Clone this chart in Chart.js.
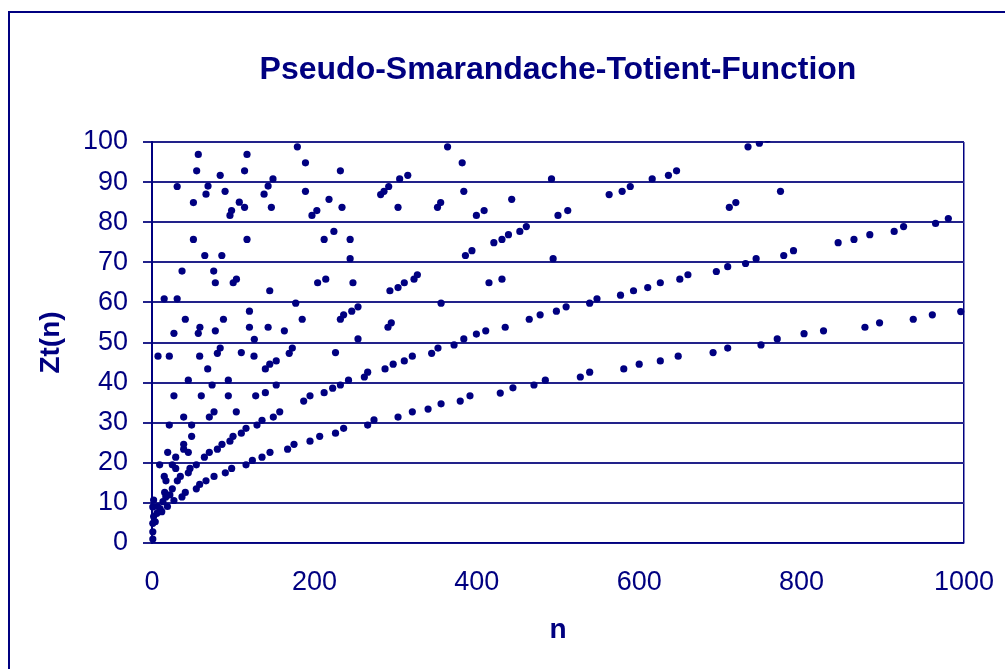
<!DOCTYPE html>
<html>
<head>
<meta charset="utf-8">
<script src="https://cdn.jsdelivr.net/npm/chart.js@4/dist/chart.umd.min.js"></script>
<style>
  html, body { margin: 0; padding: 0; background: #fff; overflow: hidden; }
  #frame { position: absolute; left: 8px; top: 11px; width: 1100px; height: 800px; border: 2px solid #000080; }
  #c { position: absolute; left: 0; top: 0; }
</style>
</head>
<body>
<div id="frame"></div>
<canvas id="c" width="1005" height="669"></canvas>
<script>
// Zt(n): n values and matching Zt(n)
const nVals = [
  1, 1, 1, 4, 2, 6, 12, 1, 2, 7, 10, 13.5, 19, 17, 15.6, 27, 25, 22,
  179, 57, 117, 189, 55, 114, 84, 149, 31, 69, 143, 90, 189, 66.5, 138, 51, 107.5, 114, 147, 218, 98, 96, 203, 197,
  51, 117, 212, 65, 86, 37, 76, 78, 100, 104, 204, 214, 145, 15, 31, 177, 41, 59, 88, 120, 120, 143, 185, 27, 57, 78, 163, 126,
  7.4, 21.3, 58.7, 80.5, 84, 110, 125.6, 169, 172.8, 68.6, 139.6, 145, 153, 44.7, 74, 94, 153, 27, 60.7, 94, 127.7, 139.6, 186.8, 194.6, 212,
  39, 70.6, 76.4, 103.8, 21.3, 48.8, 48.8, 39, 39, 44.7, 19.3, 29.2, 9.4, 25, 29.2, 44.7, 46.8, 54.6, 34.9,
  64.5, 70.6, 80.5, 86.2, 96, 99.8, 110, 115.8, 129.3, 135.5, 149.4, 157.3, 145.3, 167, 174.9, 194.6, 206.5,
  135.5, 123.6, 115.8, 98.1, 90.3, 76.4, 66.5, 58.7, 54.6, 36.9, 41, 31.2, 15.1, 17.2,
  364, 382, 232, 305, 315, 492, 291.5, 285.7, 281.6, 384, 234, 303, 355.5, 351.6, 443, 399.5, 409, 500,
  224, 244, 244, 386, 394, 421, 431, 439, 453, 461, 494, 247.5, 293, 303, 310.7, 322.7, 326.8, 415, 431, 356,
  232, 236, 246, 253.7, 290.6, 294.7, 253.7, 384, 399.5, 411, 435, 464.6, 478, 498,
  226, 287, 297, 310.7, 320.6, 344.4, 352.2, 372, 222.5, 232, 242, 261.5, 265.6,
  226, 236, 265.6, 273.4, 303, 320.6, 340, 356, 379.6, 391.6, 428.9, 444.5, 470.4, 484.4,
  734, 748, 758, 616, 636, 646, 563, 579, 589, 774, 512, 711, 719, 744, 778,
  510, 539, 548, 577, 593, 610.5, 626, 650, 660, 695, 709, 731, 770,
  750, 709, 691, 648, 626, 600, 581, 539, 527.5,
  790, 845, 864.5, 884, 914, 925.6, 965, 980.7, 803, 827, 878, 896, 937.5, 961, 996
];
const ztVals = [
  1, 2.8, 4.9, 5.3, 6.6, 7.4, 7.8, 9, 10.7, 9.1, 8.5, 10.3, 9.1, 11.5, 12.6, 10.6, 13.5, 12,
  98.8, 96.9, 96.9, 94.8, 92.8, 92.8, 91.7, 90.8, 88.9, 89, 89, 87.7, 87.7, 87, 87, 84.9, 85, 83.7, 83.7, 85.7, 82.9, 81.7, 82.9, 81.7,
  75.7, 75.7, 75.7, 71.7, 71.7, 67.8, 67.8, 64.9, 64.9, 65.8, 64.9, 65.8, 62.9, 60.9, 60.9, 59.8, 55.8, 53.8, 55.8, 57.8, 53.8, 53.8, 55.8, 52.3, 52.3, 52.9, 52.9, 50.8,
  46.6, 46.6, 46.6, 47.3, 48.6, 47.5, 46.6, 47.3, 48.6, 43.4, 43.4, 44.6, 45.4, 40.6, 39.4, 40.6, 39.4, 36.7, 36.7, 36.7, 36.7, 37.5, 35.4, 36.7, 37.5,
  31.4, 31.4, 32.7, 32.7, 29.4, 29.4, 26.6, 24.6, 23.4, 22.6, 22.6, 21.4, 19.5, 19.5, 18.6, 17.5, 18.6, 19.5, 16.6,
  21.4, 22.6, 23.4, 24.6, 25.4, 26.6, 27.4, 28.6, 29.4, 30.6, 31.4, 32.7, 22.6, 23.4, 24.6, 25.4, 26.6,
  21.4, 20.6, 19.5, 18.6, 17.5, 16.6, 15.5, 14.6, 13.5, 11.5, 12.6, 15.5, 16.6, 15.5,
  98.8, 94.8, 92.8, 90.8, 91.7, 90.8, 88.9, 87.7, 86.9, 87.7, 83.7, 83.7, 84.9, 83.7, 85.7, 81.7, 82.9, 81.7,
  77.7, 75.7, 70.9, 71.7, 72.9, 74.9, 75.7, 76.9, 77.7, 78.9, 70.9, 64.9, 62.9, 63.7, 64.9, 65.8, 66.9, 64.9, 65.8, 59.8,
  55.8, 56.9, 57.8, 58.9, 53.8, 54.9, 50.9, 50.9, 52.1, 52.9, 53.8, 55.8, 56.9, 57.8,
  47.5, 43.4, 44.6, 45.4, 46.6, 47.3, 48.6, 49.4, 38.6, 39.4, 40.6, 41.4, 42.6,
  27.4, 28.6, 29.4, 30.7, 31.4, 32.7, 33.4, 34.7, 35.4, 36.7, 37.4, 38.7, 39.4, 40.6,
  98.8, 99.7, 100.7, 90.8, 91.7, 92.8, 86.9, 87.7, 88.9, 87.7, 82.9, 83.7, 84.9, 70.9, 71.7,
  58.9, 59.8, 60.9, 61.8, 62.9, 63.7, 64.9, 65.8, 66.9, 67.7, 68.9, 69.7, 50.9,
  49.4, 48.6, 47.5, 46.6, 45.4, 44.6, 43.4, 42.6, 41.4,
  72.9, 74.9, 75.7, 76.9, 77.7, 78.9, 79.7, 80.9, 52.2, 52.9, 53.8, 54.9, 55.8, 56.9, 57.7
];

const titleText = 'Pseudo-Smarandache-Totient-Function';
const xTitle = 'n';
const yTitle = 'Zt(n)';

const navy = '#000080';
const gridNavy = '#22228a';
const fam = '"Liberation Sans", Arial, sans-serif';

const pts = nVals.map((n, i) => ({ x: n, y: ztVals[i] }));

new Chart(document.getElementById('c'), {
  type: 'scatter',
  data: {
    datasets: [{
      data: pts,
      backgroundColor: navy,
      borderWidth: 0,
      pointRadius: 3.6,
      pointHoverRadius: 3.6,
      clip: { left: 6, top: 1, right: 6, bottom: 4 }
    }]
  },
  options: {
    responsive: false,
    animation: false,
    layout: { padding: { left: 0, top: 0, right: 41, bottom: 0 } },
    plugins: {
      legend: { display: false },
      tooltip: { enabled: false },
      title: {
        display: true,
        text: titleText,
        fullSize: false,
        color: navy,
        font: { family: fam, size: 32, weight: 'bold', lineHeight: 1.2 },
        padding: { top: 51, bottom: 52.6 }
      }
    },
    scales: {
      x: {
        type: 'linear',
        min: 0, max: 1000,
        ticks: {
          stepSize: 200, color: navy, padding: 23, font: { family: fam, size: 27 },
          callback: v => String(v)
        },
        grid: {
          drawTicks: false,
          color: c => (c.tick && c.tick.value === 1000) ? navy : 'rgba(0,0,0,0)',
          lineWidth: 1.5
        },
        border: { display: true, color: navy, width: 1.5 },
        title: {
          display: true, text: xTitle, color: navy,
          font: { family: fam, size: 28, weight: 'bold', lineHeight: 1.2 },
          padding: { top: 0, bottom: 22 }
        },
        afterFit: s => { s.height = 126; s.paddingLeft = 0; s.paddingRight = 0; }
      },
      y: {
        min: 0, max: 100,
        ticks: { stepSize: 10, color: navy, padding: 15, font: { family: fam, size: 27 } },
        grid: { color: gridNavy, lineWidth: 2, tickLength: 9, tickColor: gridNavy },
        border: { display: true, color: navy, width: 2 },
        title: {
          display: true, text: yTitle, color: navy,
          font: { family: fam, size: 28, weight: 'bold', lineHeight: 1.2 },
          padding: { top: 34, bottom: 0 }
        },
        afterFit: s => { s.width = 152; s.paddingTop = 0; s.paddingBottom = 0; }
      }
    }
  }
});
</script>
</body>
</html>
